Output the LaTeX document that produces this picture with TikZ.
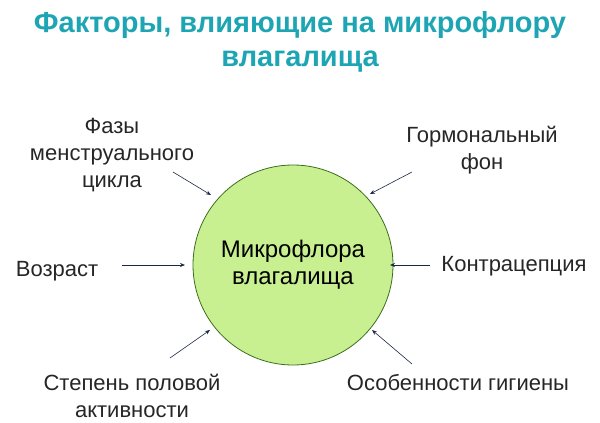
\documentclass[tikz,border=0pt]{standalone}
\usepackage{fontspec}
\setmainfont{Liberation Sans}
\usetikzlibrary{arrows.meta}
\definecolor{teal1}{RGB}{30,165,180}
\definecolor{green1}{RGB}{200,240,145}
\definecolor{green2}{RGB}{60,110,30}
\definecolor{navy}{RGB}{30,40,70}
\begin{document}
\begin{tikzpicture}[x=1pt,y=-1pt,
  lbl/.style={font=\fontsize{22}{27}\selectfont, align=center, text=black!85},
  arr/.style={-{Stealth[length=5pt,width=4pt]}, navy, line width=0.6pt}]
\useasboundingbox (0,0) rectangle (600,423);
\node[font=\bfseries\fontsize{29}{34}\selectfont, text=teal1, align=center] (t) at (300,42) {Факторы, влияющие на микрофлору\\влагалища};
\node[circle, draw=green2, fill=green1, line width=0.8pt, minimum size=200pt, inner sep=0pt,
  font=\fontsize{24}{27}\selectfont, align=center] (c) at (293,265) {Микрофлора\\влагалища};
\node[lbl] (a) at (112,155) {Фазы\\менструального\\цикла};
\node[lbl] (b) at (482,150) {Гормональный\\фон};
\node[lbl] (d) at (57,271) {Возраст};
\node[lbl] (e) at (514,266) {Контрацепция};
\node[lbl] (f) at (132,396) {Степень половой\\активности};
\node[lbl] (g) at (458,383) {Особенности гигиены};
\coordinate (a1) at (173,172); \coordinate (a2) at (211,195);
\coordinate (b1) at (412,172); \coordinate (b2) at (370,194);
\coordinate (d1) at (122,265); \coordinate (d2) at (185,265);
\coordinate (e1) at (430,265); \coordinate (e2) at (390,265);
\coordinate (f1) at (170,358); \coordinate (f2) at (210,330);
\coordinate (g1) at (412,364); \coordinate (g2) at (372,330);
\foreach \p in {a,b,d,e,f,g} \draw[arr] (\p1) -- (\p2);
\end{tikzpicture}
\end{document}
